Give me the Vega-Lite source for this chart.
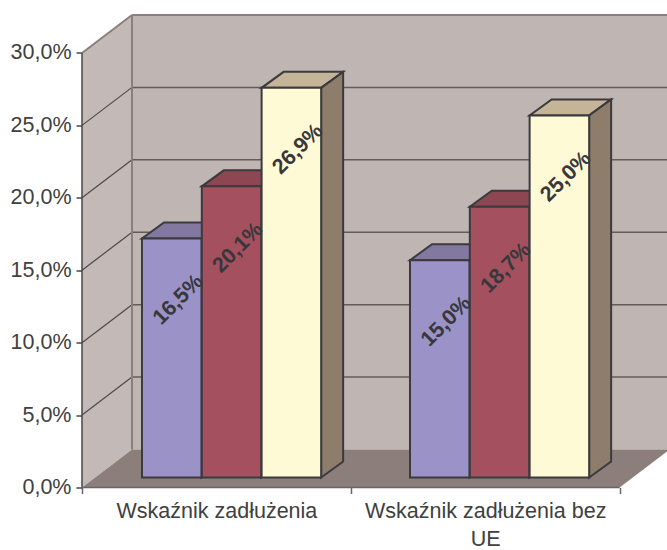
{
"$schema":"https://vega.github.io/schema/vega-lite/v6.json",
"autosize":"none",
"width":585,"height":478,
"padding":{"left":82,"top":9.5,"right":0,"bottom":62.5},
"background":"white",
"view":{"stroke":null},
"config":{"font":"Liberation Sans"},
"datasets":{
"bars":[
{"category":"Wskaźnik zadłużenia","group":0,"series":0,"value":16.5},
{"category":"Wskaźnik zadłużenia","group":0,"series":1,"value":20.1},
{"category":"Wskaźnik zadłużenia","group":0,"series":2,"value":26.9},
{"category":"Wskaźnik zadłużenia bez UE","group":1,"series":0,"value":15.0},
{"category":"Wskaźnik zadłużenia bez UE","group":1,"series":1,"value":18.7},
{"category":"Wskaźnik zadłużenia bez UE","group":1,"series":2,"value":25.0}
],
"grid":[{"v":5},{"v":10},{"v":15},{"v":20},{"v":25}]
},
"encoding":{
 "x":{"type":"quantitative","title":null,"scale":{"domain":[0,2.1763],"nice":false,"zero":false},
  "axis":{"title":null,"values":[0,0.5,1,1.5,2],"domain":false,"grid":false,"tickSize":6,"tickColor":"#6a6666","tickWidth":1.5,"tickOpacity":{"condition":{"test":"datum.value%1!=0","value":0},"value":1},"labelColor":"#404040","labelFontSize":21.5,"labelLimit":500,"labelPadding":7,"labelLineHeight":28,"labelFlush":false,"labelOverlap":false,"labelBound":false,"labelExpr":"datum.value==0.5?'Wskaźnik zadłużenia':datum.value==1.5?['Wskaźnik zadłużenia bez','UE']:''"}},
 "y":{"type":"quantitative","title":null,"scale":{"domain":[0,33],"nice":false,"zero":false},
  "axis":{"title":null,"values":[0,5,10,15,20,25,30],"domain":false,"grid":false,"tickSize":6,"tickColor":"#4a4646","tickWidth":1.5,"labelColor":"#404040","labelFontSize":21.5,"labelPadding":5,"labelExpr":"replace(format(datum.value,'.1f'),'.',',')+'%'"}}
},
"resolve":{"scale":{"color":"independent"}},
"layer":[
{"data":{"values":[{"x":0,"lo":0,"hi":30},{"x":0.186,"lo":2.623,"hi":32.623}]},
 "mark":{"type":"area","fill":"#c3bab7","clip":true},
 "encoding":{"x":{"field":"x"},"y":{"field":"lo"},"y2":{"field":"hi"}}},
{"data":{"values":[{"x":0.186,"x2":2.1763,"lo":2.623,"hi":32.623}]},
 "mark":{"type":"rect","fill":"#bfb5b3"},
 "encoding":{"x":{"field":"x"},"x2":{"field":"x2"},"y":{"field":"lo"},"y2":{"field":"hi"}}},
{"data":{"values":[{"x":0,"lo":0,"hi":0},{"x":0.186,"lo":0,"hi":2.623},{"x":2,"lo":0,"hi":2.623},{"x":2.186,"lo":2.623,"hi":2.623}]},
 "mark":{"type":"area","fill":"#8c7f7b","clip":true},
 "encoding":{"x":{"field":"x"},"y":{"field":"lo"},"y2":{"field":"hi"}}},
{"data":{"name":"grid"},
 "transform":[{"calculate":"datum.v+2.623","as":"b"},{"calculate":"0.186","as":"x1"},{"calculate":"2.1763","as":"x2"}],
 "mark":{"type":"rule","stroke":"#645c5b","strokeWidth":1.5},
 "encoding":{"x":{"field":"x1"},"x2":{"field":"x2"},"y":{"field":"b"}}},
{"data":{"name":"grid"},
 "transform":[{"calculate":"datum.v+2.623","as":"b"},{"calculate":"0","as":"x1"},{"calculate":"0.186","as":"x2"}],
 "mark":{"type":"rule","stroke":"#4f4949","strokeWidth":1.2},
 "encoding":{"x":{"field":"x1"},"x2":{"field":"x2"},"y":{"field":"v"},"y2":{"field":"b"}}},
{"data":{"values":[{"x":0,"x2":0.186,"y":30,"y2":32.623},{"x":0.186,"x2":2.1763,"y":32.623,"y2":32.623},{"x":0.186,"x2":0.186,"y":2.623,"y2":32.623}]},
 "mark":{"type":"rule","stroke":"#8c7f7b","strokeWidth":2},
 "encoding":{"x":{"field":"x"},"x2":{"field":"x2"},"y":{"field":"y"},"y2":{"field":"y2"}}},
{"data":{"values":[{"x":0,"x2":0,"y":0,"y2":30}]},
 "mark":{"type":"rule","stroke":"#4a4646","strokeWidth":1.5},
 "encoding":{"x":{"field":"x"},"x2":{"field":"x2"},"y":{"field":"y"},"y2":{"field":"y2"}}},
{"data":{"values":[{"x":0,"x2":2,"y":0}]},
 "mark":{"type":"rule","stroke":"#6a6666","strokeWidth":1.5},
 "encoding":{"x":{"field":"x"},"x2":{"field":"x2"},"y":{"field":"y"}}},
{"data":{"name":"bars"},
 "transform":[
  {"calculate":"datum.group*0.997+0.2232+datum.series*0.2225","as":"x0"},
  {"calculate":"[0,1,2,3]","as":"k"},{"flatten":["k"]},
  {"calculate":"datum.value+0.69","as":"top"},
  {"calculate":"datum.x0+[0,0.0818,0.2215,0.3033][datum.k]","as":"px"},
  {"calculate":"datum.top+[0,0,0,1.105][datum.k]","as":"lo"},
  {"calculate":"datum.top+[0,1.105,1.105,1.105][datum.k]","as":"hi"},
  {"calculate":"datum.group+'-'+datum.series","as":"id"}],
 "mark":{"type":"area","stroke":"#3a3a3f","strokeWidth":2,"strokeJoin":"miter"},
 "encoding":{"x":{"field":"px"},"y":{"field":"lo"},"y2":{"field":"hi"},
  "detail":{"field":"id"},
  "color":{"field":"series","type":"nominal","scale":{"domain":[0,1,2],"range":["#83789f","#8c4753","#c4b599"]},"legend":null}}},
{"data":{"name":"bars"},
 "transform":[
  {"calculate":"datum.group*0.997+0.2232+datum.series*0.2225+0.2215","as":"x0"},
  {"calculate":"[0,1]","as":"k"},{"flatten":["k"]},
  {"calculate":"datum.x0+datum.k*0.0818","as":"px"},
  {"calculate":"0.69+datum.k*1.105","as":"lo"},
  {"calculate":"datum.value+0.69+datum.k*1.105","as":"hi"},
  {"calculate":"datum.group+'-'+datum.series","as":"id"}],
 "mark":{"type":"area","stroke":"#3a3a3f","strokeWidth":2,"fill":"#8f7d6c","strokeJoin":"miter"},
 "encoding":{"x":{"field":"px"},"y":{"field":"lo"},"y2":{"field":"hi"},"detail":{"field":"id"}}},
{"data":{"name":"bars"},
 "transform":[
  {"calculate":"datum.group*0.997+0.2232+datum.series*0.2225","as":"x0"},
  {"calculate":"datum.x0+0.2215","as":"x1"},
  {"calculate":"0.69","as":"lo"},
  {"calculate":"datum.value+0.69","as":"hi"}],
 "mark":{"type":"rect","stroke":"#3a3a3f","strokeWidth":2},
 "encoding":{"x":{"field":"x0"},"x2":{"field":"x1"},"y":{"field":"lo"},"y2":{"field":"hi"},
  "color":{"field":"series","type":"nominal","scale":{"domain":[0,1,2],"range":["#9b93c7","#a5505f","#fffad6"]},"legend":null}}},
{"data":{"name":"bars"},
 "transform":[
  {"calculate":"datum.group*0.997+0.2232+datum.series*0.2225+0.1358","as":"px"},
  {"calculate":"datum.value+0.69-4.25","as":"py"},
  {"calculate":"replace(format(datum.value,'.1f'),'.',',')+'%'","as":"label"}],
 "mark":{"type":"text","angle":315,"align":"center","baseline":"middle","fontSize":21.5,"fontWeight":"bold","fill":"#38383c"},
 "encoding":{"x":{"field":"px"},"y":{"field":"py"},"text":{"field":"label"}}}
]
}
